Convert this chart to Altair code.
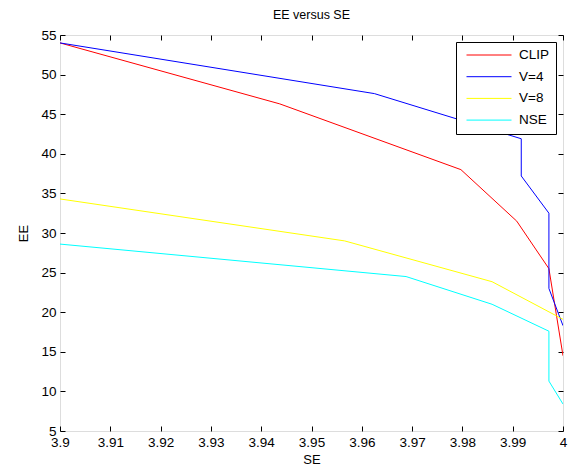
import altair as alt
import pandas as pd

series_names = ["CLIP", "V=4", "V=8", "NSE"]
series_colors = ["#ff0000", "#0000ff", "#ffff00", "#00ffff"]

clip_se = [3.9, 3.9437, 3.9797, 3.9908, 3.9972, 4.0]
clip_ee = [54.0, 46.3, 38.0, 31.5, 25.5, 14.5]
v4_se = [3.9, 3.9625, 3.9917, 3.9917, 3.9972, 3.9972, 4.0]
v4_ee = [54.0, 47.6, 41.9, 37.2, 32.5, 23.0, 18.3]
v8_se = [3.9, 3.9566, 3.9859, 4.0]
v8_ee = [34.3, 29.0, 23.85, 19.1]
nse_se = [3.9, 3.9688, 3.9859, 3.9972, 3.9972, 4.0]
nse_ee = [28.6, 24.5, 21.0, 17.6, 11.3, 8.4]

x_ticks = [3.9, 3.91, 3.92, 3.93, 3.94, 3.95, 3.96, 3.97, 3.98, 3.99, 4.0]
y_ticks = [5, 10, 15, 20, 25, 30, 35, 40, 45, 50, 55]

rows = []
for name, xs, ys in zip(series_names,
                        [clip_se, v4_se, v8_se, nse_se],
                        [clip_ee, v4_ee, v8_ee, nse_ee]):
    for i, (xv, yv) in enumerate(zip(xs, ys)):
        rows.append({"series": name, "SE": xv, "EE": yv, "idx": i})
df = pd.DataFrame(rows)

FONT = "Liberation Sans"
W, H = 503, 396
TICKFS = 13.5

xscale = alt.Scale(domain=[3.9, 4.0], nice=False, zero=False)
yscale = alt.Scale(domain=[5, 55], nice=False, zero=False)

lines = alt.Chart(df).mark_line(strokeWidth=1, clip=True).encode(
    x=alt.X("SE:Q", scale=xscale, title="SE",
            axis=alt.Axis(orient="bottom", values=x_ticks, format=".3~g", offset=-5,
                          tickSize=5, domain=False, grid=False, labelPadding=4,
                          labelFont=FONT, labelFontSize=TICKFS, labelColor="black",
                          tickColor="black", titleFont=FONT, titleFontSize=13,
                          titleFontWeight="normal", titleColor="black", titlePadding=5,
                          labelFlush=False, labelOverlap=False)),
    y=alt.Y("EE:Q", scale=yscale, title="EE",
            axis=alt.Axis(orient="left", values=y_ticks, offset=-5, tickSize=5,
                          domain=False, grid=False, labelPadding=4,
                          labelFont=FONT, labelFontSize=TICKFS, labelColor="black",
                          tickColor="black", titleFont=FONT, titleFontSize=13,
                          titleFontWeight="normal", titleColor="black", titlePadding=10,
                          labelFlush=False, labelOverlap=False)),
    color=alt.Color("series:N",
                    scale=alt.Scale(domain=series_names, range=series_colors),
                    legend=alt.Legend(title=None, orient="none", legendX=396, legendY=7,
                                      symbolType="stroke", symbolSize=2025,
                                      symbolStrokeWidth=1, symbolOffset=4,
                                      labelFont=FONT, labelFontSize=TICKFS,
                                      labelColor="black",
                                      strokeColor="black", fillColor="white",
                                      padding=6, rowPadding=7.7, clipHeight=14,
                                      labelOffset=7)),
    order="idx:Q",
)

frame = alt.Chart(df).mark_point(opacity=0).encode(
    x=alt.X("SE:Q", scale=xscale, title=None,
            axis=alt.Axis(orient="top", values=x_ticks, labels=False, offset=-5,
                          tickSize=5, domain=False, grid=False, tickColor="black")),
    y=alt.Y("EE:Q", scale=yscale, title=None,
            axis=alt.Axis(orient="right", values=y_ticks, labels=False, offset=-5,
                          tickSize=5, domain=False, grid=False, tickColor="black")),
)

chart = alt.layer(lines, frame).resolve_axis(x="independent", y="independent").properties(
    width=W, height=H,
    title=alt.TitleParams("EE versus SE", font=FONT, fontSize=12.5, fontWeight="normal",
                          color="black", offset=7, anchor="middle"),
    autosize=alt.AutoSizeParams(type="none"),
    padding={"left": 60, "top": 35, "right": 5, "bottom": 37},
).configure_view(stroke="black", strokeWidth=1).configure(background="white")

chart.save("out.html", embed_options={"renderer": "svg", "actions": False})
